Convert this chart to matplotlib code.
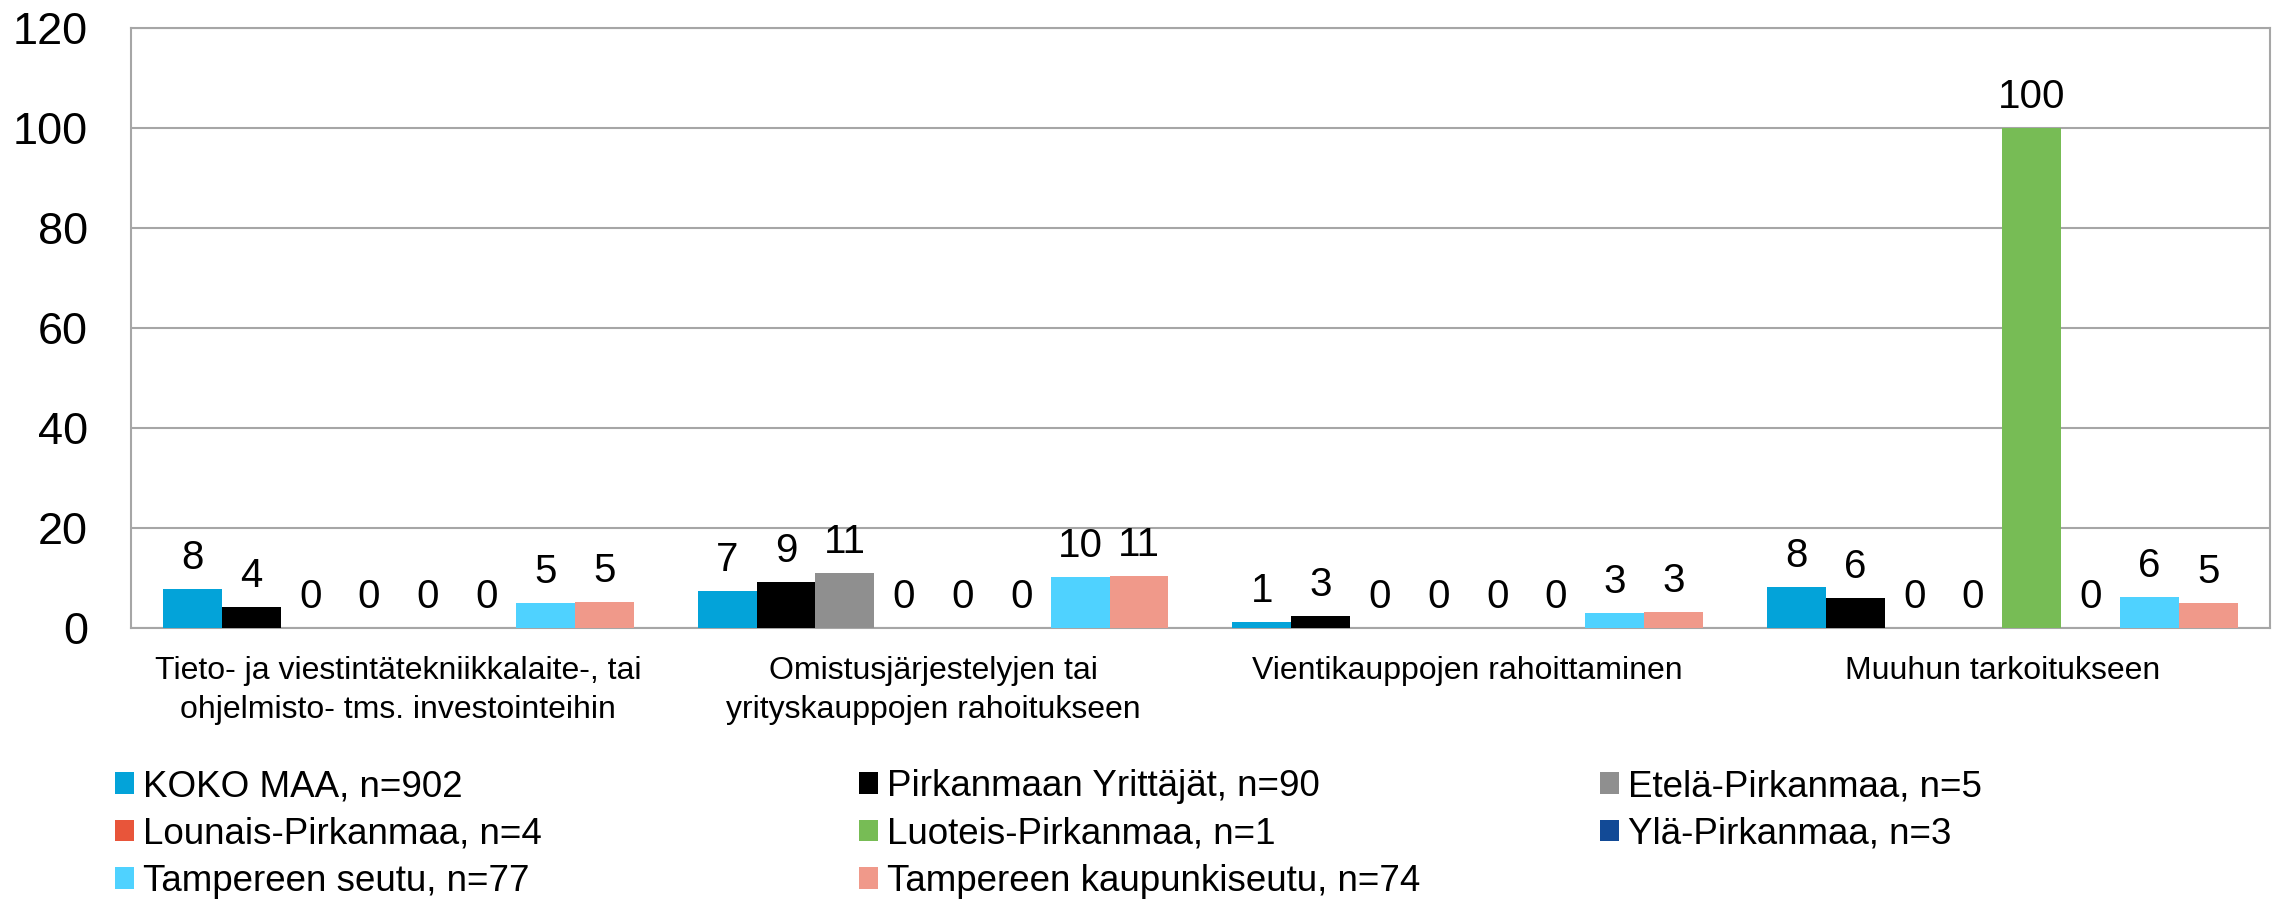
import numpy as np
import matplotlib.pyplot as plt

plt.rcParams['font.family'] = ['Liberation Sans', 'DejaVu Sans']

categories = ['Tieto- ja viestintätekniikkalaite-, tai\nohjelmisto- tms. investointeihin',
              'Omistusjärjestelyjen tai\nyrityskauppojen rahoitukseen',
              'Vientikauppojen rahoittaminen',
              'Muuhun tarkoitukseen']

series = ['KOKO MAA, n=902', 'Pirkanmaan Yrittäjät, n=90', 'Etelä-Pirkanmaa, n=5',
          'Lounais-Pirkanmaa, n=4', 'Luoteis-Pirkanmaa, n=1', 'Ylä-Pirkanmaa, n=3',
          'Tampereen seutu, n=77', 'Tampereen kaupunkiseutu, n=74']
colors = ['#03A3D9', '#000000', '#8F8F8F', '#E8553A', '#77BC55', '#124A96',
          '#4FD2FF', '#F0998A']

# bar heights (unrounded) and the rounded value labels shown on the chart
koko_maa = [7.9, 7.4, 1.3, 8.3]
pirkanmaa = [4.2, 9.3, 2.5, 6.1]
etela = [0, 11.1, 0, 0]
lounais = [0, 0, 0, 0]
luoteis = [0, 0, 0, 100]
yla = [0, 0, 0, 0]
tre_seutu = [5.1, 10.3, 3.1, 6.3]
tre_kaupunkiseutu = [5.3, 10.5, 3.2, 5.1]
values = [koko_maa, pirkanmaa, etela, lounais, luoteis, yla, tre_seutu, tre_kaupunkiseutu]

labels = [[8, 7, 1, 8], [4, 9, 3, 6], [0, 11, 0, 0], [0, 0, 0, 0],
          [0, 0, 0, 100], [0, 0, 0, 0], [5, 10, 3, 6], [5, 11, 3, 5]]

fig = plt.figure(figsize=(22.8, 8.99), dpi=100)
ax = fig.add_axes([0.0575, 0.3014, 0.938, 0.6676])

x = np.arange(len(categories))
w = 0.11
handles = []
for j, (name, vals, c) in enumerate(zip(series, values, colors)):
    bars = ax.bar(x + (j - 3.5) * w, vals, w, color=c, label=name, zorder=3)
    ax.bar_label(bars, labels=[str(v) for v in labels[j]], padding=8.5, fontsize=29)
    handles.append(bars)

ax.set_xlim(-0.5, 3.5)
ax.set_ylim(0, 120)
ax.set_yticks(range(0, 121, 20))
ax.tick_params(axis='y', length=0, pad=31, labelsize=32.5)
ax.set_xticks(x)
ax.set_xticklabels(categories, fontsize=23, linespacing=1.4)
ax.tick_params(axis='x', length=0, pad=20)
ax.yaxis.grid(True, color='#A6A6A6', linewidth=1.5, zorder=0)
for s in ax.spines.values():
    s.set_color('#A6A6A6')
    s.set_linewidth(1.5)

# legend, row by row in three columns
cols = [[0, 3, 6], [1, 4, 7], [2, 5]]
col_x = [115 / 2280, 859 / 2280, 1600 / 2280]
for cx, idx in zip(col_x, cols):
    fig.legend([handles[i] for i in idx], [series[i] for i in idx],
               loc='upper left', bbox_to_anchor=(cx, 0.1445), frameon=False,
               fontsize=26.5, handlelength=0.51, handleheight=0.51,
               handletextpad=0.24, labelspacing=0.34, borderpad=0, borderaxespad=0)

fig.savefig('out.png', dpi=100)
